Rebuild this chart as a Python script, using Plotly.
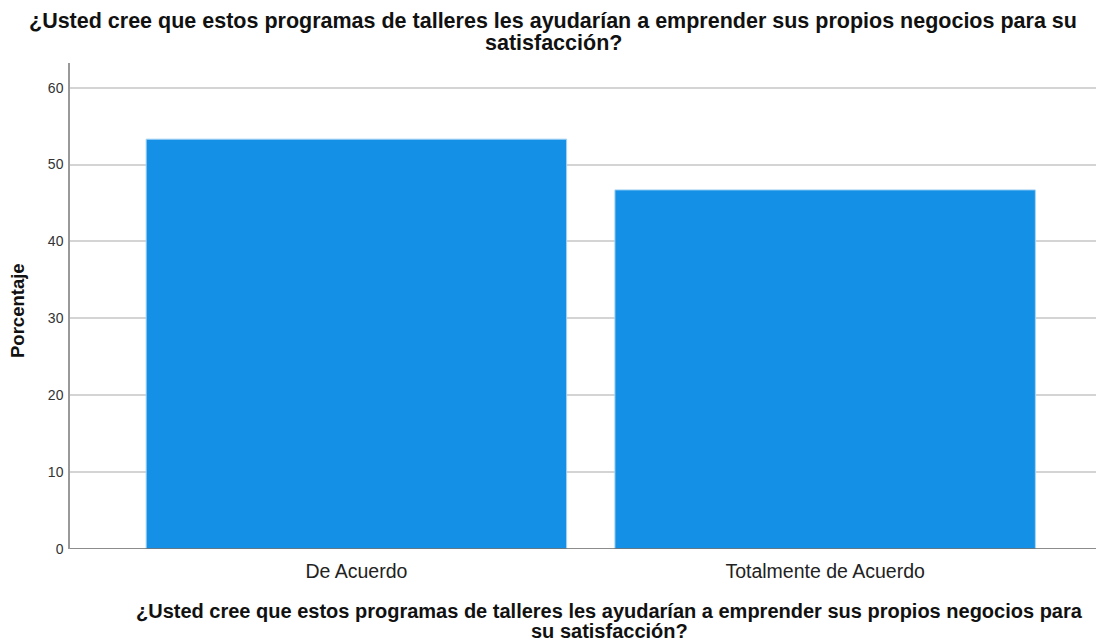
import plotly.graph_objects as go

categories = ["De Acuerdo", "Totalmente de Acuerdo"]
values = [53.3, 46.7]
y_ticks = [0, 10, 20, 30, 40, 50, 60]
title_lines = ["¿Usted cree que estos programas de talleres les ayudarían a emprender sus propios negocios para su",
               "satisfacción?"]
x_title_lines = ["¿Usted cree que estos programas de talleres les ayudarían a emprender sus propios negocios para",
                 "su satisfacción?"]

W, H = 1104, 643
OFF = 8  # page body margin offset
ML, MR, MT = 70 - OFF, 0, 63 - OFF
MB = H - (549 - OFF)

fig = go.Figure(go.Bar(
    x=list(range(len(categories))),
    y=values,
    width=0.897,
    marker=dict(color="#1490E6", line=dict(color="#a8d4f4", width=1)),
    hoverinfo="y",
))

fig.update_layout(
    width=W, height=H,
    margin=dict(l=ML, r=MR, t=MT, b=MB, autoexpand=False),
    paper_bgcolor="white", plot_bgcolor="white",
    font=dict(family="Liberation Sans, Arial, sans-serif", color="#222"),
    showlegend=False,
    xaxis=dict(
        tickmode="array", tickvals=list(range(len(categories))), ticktext=categories,
        range=[-0.611, 1.612], showgrid=False, zeroline=False, automargin=False,
        showline=False, ticks="", tickfont=dict(size=19.5, color="#222"),
        ticklabelstandoff=8,
    ),
    yaxis=dict(
        range=[0, 63.2], tickvals=y_ticks, showgrid=True, gridcolor="#d4d4d4", gridwidth=1.5,
        zeroline=False, showline=True, linecolor="#999999", linewidth=1.5, automargin=False,
        ticks="", tickfont=dict(size=14, color="#333"), ticklabelstandoff=2,
    ),
)

pw = W - ML - MR
ph = H - MT - MB
def px(xs):
    return (xs - OFF - ML) / pw
def py(ys):
    return (H - MB - (ys - OFF)) / ph

title_font = dict(size=21.5, family="Liberation Sans, Arial", color="#111")
for line, yc in zip(title_lines, [21, 43]):
    fig.add_annotation(text="<b>" + line + "</b>", x=px(553), xref="paper", xanchor="center",
                       y=py(yc), yref="paper", yanchor="middle", showarrow=False, font=title_font)

xt_font = dict(size=20, family="Liberation Sans, Arial", color="#111")
for line, yc in zip(x_title_lines, [611, 631]):
    fig.add_annotation(text="<b>" + line + "</b>", x=px(609), xref="paper", xanchor="center",
                       y=py(yc), yref="paper", yanchor="middle", showarrow=False, font=xt_font)

fig.add_annotation(text="<b>Porcentaje</b>", x=px(17), xref="paper", xanchor="center",
                   y=py(311), yref="paper", yanchor="middle", textangle=-90, showarrow=False,
                   font=dict(size=18.5, family="Liberation Sans, Arial", color="#111"))

fig.add_shape(type="line", xref="paper", yref="y", x0=0, x1=1, y0=0, y1=0,
              line=dict(color="#666666", width=1.5))

fig.write_html("out.html")
